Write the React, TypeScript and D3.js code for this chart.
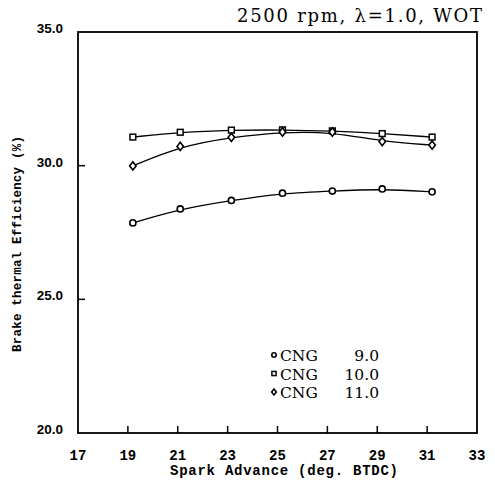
import React from "react";
import * as d3 from "d3";

const sparkAdvance = [19.2, 21.1, 23.15, 25.2, 27.2, 29.2, 31.2];
const cng9 = [27.86, 28.38, 28.7, 28.97, 29.05, 29.13, 29.02];
const cng10 = [31.07, 31.25, 31.33, 31.34, 31.3, 31.2, 31.07];
const cng11 = [29.99, 30.72, 31.06, 31.26, 31.26, 30.9, 30.77];
const xTicks = [17, 19, 21, 23, 25, 27, 29, 31, 33];
const yTicks = [20, 25, 30, 35];
const legendNames = ["CNG", "CNG", "CNG"];
const legendValues = ["9.0", "10.0", "11.0"];
const markers = ["circle", "square", "diamond"];

const W = 495;
const H = 480;
const left = 78, right = 477, top = 32, bottom = 433;

export default function App() {
  const x = d3.scaleLinear().domain([17, 33]).range([left, right]);
  const y = d3.scaleLinear().domain([20, 35]).range([bottom, top]);
  const line = d3
    .line<number>()
    .x((_, i) => x(sparkAdvance[i]))
    .y((d) => y(d))
    .curve(d3.curveBasis);

  const series = [cng9, cng10, cng11];

  const marker = (kind: string, cx: number, cy: number, s: number, key: string) => {
    if (kind === "circle")
      return <circle key={key} cx={cx} cy={cy} r={s * 0.85} fill="#fff" stroke="#000" strokeWidth={1.6} />;
    if (kind === "square")
      return (
        <rect key={key} x={cx - s * 0.8} y={cy - s * 0.8} width={s * 1.6} height={s * 1.6} fill="#fff" stroke="#000" strokeWidth={1.5} />
      );
    const w = s * 0.9, h = s * 1.15;
    return (
      <path
        key={key}
        d={`M${cx},${cy - h}L${cx + w},${cy}L${cx},${cy + h}L${cx - w},${cy}Z`}
        fill="#fff"
        stroke="#000"
        strokeWidth={1.6}
      />
    );
  };

  return (
    <svg width={W} height={H} style={{ position: "absolute", left: 0, top: 0, background: "#fff" }}>
      <rect x={0} y={0} width={W} height={H} fill="#fff" />
      {/* title */}
      <text
        x={237}
        y={22}
        fontFamily="DejaVu Serif, serif"
        fontSize={18}
        textLength={245}
        lengthAdjust="spacing"
        fill="#000"
      >
        2500 rpm, λ=1.0, WOT
      </text>
      {/* frame */}
      <rect x={left} y={top} width={right - left} height={bottom - top} fill="none" stroke="#000" strokeWidth={1.8} />
      {/* x ticks */}
      {xTicks.map((t) => (
        <g key={"xt" + t}>
          {t > 17 && t < 33 && <line x1={x(t)} x2={x(t)} y1={bottom} y2={bottom - 7} stroke="#000" strokeWidth={1.5} />}
          <text
            x={x(t)}
            y={460}
            textAnchor="middle"
            fontFamily="Liberation Mono, monospace"
            fontWeight="bold"
            fontSize={14}
            fill="#000"
          >
            {t}
          </text>
        </g>
      ))}
      {/* y ticks */}
      {yTicks.map((t) => (
        <g key={"yt" + t}>
          {t > 20 && t < 35 && <line x1={left} x2={left + 7} y1={y(t)} y2={y(t)} stroke="#000" strokeWidth={1.5} />}
          <text
            x={63}
            y={y(t) + 1}
            textAnchor="end"
            fontFamily="Liberation Sans, Arial, sans-serif"
            fontWeight="bold"
            fontSize={13.5}
            fill="#000"
          >
            {t.toFixed(1)}
          </text>
        </g>
      ))}
      {/* axis titles */}
      <text
        x={284}
        y={475}
        textAnchor="middle"
        fontFamily="Liberation Mono, monospace"
        fontWeight="bold"
        fontSize={14}
        textLength={228}
        lengthAdjust="spacing"
        fill="#000"
      >
        Spark Advance (deg. BTDC)
      </text>
      <text
        transform={`translate(21,244) rotate(-90)`}
        textAnchor="middle"
        fontFamily="Liberation Mono, monospace"
        fontWeight="bold"
        fontSize={12.5}
        textLength={216}
        lengthAdjust="spacing"
        fill="#000"
      >
        Brake thermal Efficiency (%)
      </text>
      {/* lines */}
      {series.map((s, i) => (
        <path key={"l" + i} d={line(s) || ""} fill="none" stroke="#000" strokeWidth={1.3} />
      ))}
      {/* markers */}
      {series.map((s, i) =>
        s.map((v, j) => marker(markers[i], x(sparkAdvance[j]), y(v), 3.6, `m${i}-${j}`))
      )}
      {/* legend */}
      {legendNames.map((n, i) => {
        const by = 361 + i * 18.5;
        return (
          <g key={"lg" + i}>
            {marker(markers[i], 274, by - 6, 2.6, "lm" + i)}
            <text x={280} y={by} fontFamily="DejaVu Serif, serif" fontSize={15.5} fill="#000">
              {n}
            </text>
            <text x={379} y={by} textAnchor="end" fontFamily="DejaVu Serif, serif" fontSize={15.5} fill="#000">
              {legendValues[i]}
            </text>
          </g>
        );
      })}
    </svg>
  );
}
